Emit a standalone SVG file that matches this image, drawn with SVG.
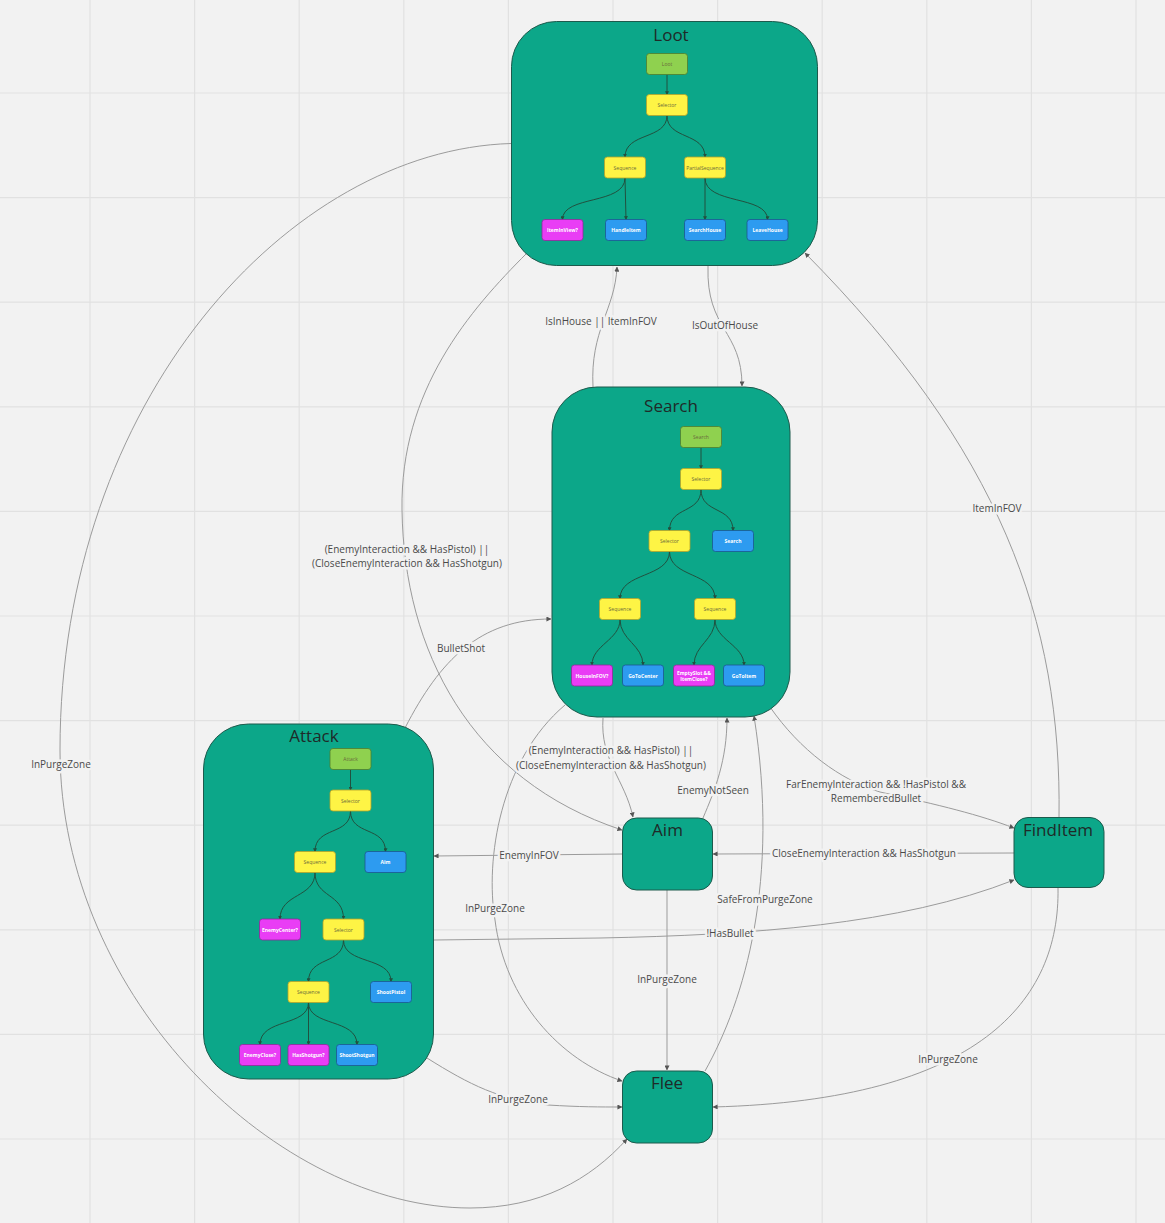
<svg xmlns="http://www.w3.org/2000/svg" width="1165" height="1223" viewBox="0 0 1165 1223">
<defs>
<style>
.grid line{stroke:#e1e1e1;stroke-width:1.2}
.big{fill:#0ca789;stroke:#1d5a4c;stroke-width:1}
.title{font-family:"Open Sans","Noto Sans","DejaVu Sans",sans-serif;font-size:17px;fill:#1f2a28;text-anchor:middle}
.n{stroke-width:0.8}
.g{fill:#8fd14f;stroke:#4f7d2c}
.y{fill:#fef445;stroke:#b5a32a}
.m{fill:#e93df5;stroke:#8e2a99}
.b{fill:#2d9bf0;stroke:#1c5790}
.nt{font-family:"Open Sans","Noto Sans","DejaVu Sans",sans-serif;font-size:5px;fill:#6a6a3c;text-anchor:middle;dominant-baseline:central}
.wt{font-family:"Open Sans","Noto Sans","DejaVu Sans",sans-serif;font-size:5px;font-weight:bold;fill:#ffffff;text-anchor:middle;dominant-baseline:central}
.te{fill:none;stroke:#21513f;stroke-width:1}
.c{fill:none;stroke:#9b9b9b;stroke-width:1}
.lbl{font-family:"Open Sans","Noto Sans","DejaVu Sans",sans-serif;font-size:10px;fill:#4a4a4a;text-anchor:middle;dominant-baseline:central;stroke:#f2f2f2;stroke-width:5;paint-order:stroke;stroke-linejoin:round}
</style>
<marker id="ta" viewBox="0 0 6 6" refX="5" refY="3" markerWidth="4" markerHeight="4" markerUnits="userSpaceOnUse" orient="auto"><path d="M0,0 L6,3 L0,6 z" fill="#21513f"/></marker>
<marker id="ca" viewBox="0 0 6 6" refX="5.5" refY="3" markerWidth="5" markerHeight="5" markerUnits="userSpaceOnUse" orient="auto"><path d="M0,0 L6,3 L0,6 z" fill="#555"/></marker>
</defs>
<rect x="0" y="0" width="1165" height="1223" fill="#f2f2f2"/>
<g class="grid">
<line x1="90" y1="0" x2="90" y2="1223"/><line x1="194.6" y1="0" x2="194.6" y2="1223"/><line x1="299.2" y1="0" x2="299.2" y2="1223"/><line x1="403.8" y1="0" x2="403.8" y2="1223"/><line x1="508.4" y1="0" x2="508.4" y2="1223"/><line x1="613" y1="0" x2="613" y2="1223"/><line x1="717.6" y1="0" x2="717.6" y2="1223"/><line x1="822.2" y1="0" x2="822.2" y2="1223"/><line x1="926.8" y1="0" x2="926.8" y2="1223"/><line x1="1031.4" y1="0" x2="1031.4" y2="1223"/><line x1="1136" y1="0" x2="1136" y2="1223"/>
<line x1="0" y1="93" x2="1165" y2="93"/><line x1="0" y1="197.6" x2="1165" y2="197.6"/><line x1="0" y1="302.2" x2="1165" y2="302.2"/><line x1="0" y1="406.8" x2="1165" y2="406.8"/><line x1="0" y1="511.4" x2="1165" y2="511.4"/><line x1="0" y1="616" x2="1165" y2="616"/><line x1="0" y1="720.6" x2="1165" y2="720.6"/><line x1="0" y1="825.2" x2="1165" y2="825.2"/><line x1="0" y1="929.8" x2="1165" y2="929.8"/><line x1="0" y1="1034.4" x2="1165" y2="1034.4"/><line x1="0" y1="1139" x2="1165" y2="1139"/>
</g>

<g id="connectors">
<path class="c" d="M511,143.5 C290,150 60,400 60,750 C60,1000 280,1208 470,1208 C540,1208 590,1180 627,1139" marker-end="url(#ca)"/>
<path class="c" d="M527,253 C470,310 400,390 402,510 C404,650 470,780 622,830" marker-end="url(#ca)"/>
<path class="c" d="M593,387 C590,330 615,310 617,267" marker-end="url(#ca)"/>
<path class="c" d="M708,266 C706,330 742,330 742,386" marker-end="url(#ca)"/>
<path class="c" d="M405,728 C440,660 480,619 551,619" marker-end="url(#ca)"/>
<path class="c" d="M603,718 C600,760 625,780 633,817" marker-end="url(#ca)"/>
<path class="c" d="M703,818 C715,790 727,760 727,718" marker-end="url(#ca)"/>
<path class="c" d="M705,1071 C745,1000 780,880 754,716" marker-end="url(#ca)"/>
<path class="c" d="M565,705 C500,760 485,860 495,920 C505,1000 560,1060 622,1081" marker-end="url(#ca)"/>
<path class="c" d="M622,854 L434,856" marker-end="url(#ca)"/>
<path class="c" d="M1014,853 L713,854" marker-end="url(#ca)"/>
<path class="c" d="M770,707 C800,750 840,780 880,792 C940,805 980,815 1014,828" marker-end="url(#ca)"/>
<path class="c" d="M434,940 L600,938 C750,935 900,925 1014,880" marker-end="url(#ca)"/>
<path class="c" d="M667,890 L667,1070" marker-end="url(#ca)"/>
<path class="c" d="M1059,818 C1062,620 1000,450 805,253" marker-end="url(#ca)"/>
<path class="c" d="M427,1058 C470,1085 500,1100 548,1105 C580,1107 600,1107 622,1107" marker-end="url(#ca)"/>
<path class="c" d="M1058,888 C1060,1000 980,1100 713,1107" marker-end="url(#ca)"/>
<text class="lbl" x="61" y="764">InPurgeZone</text>
<text class="lbl" x="407" y="549">(EnemyInteraction &amp;&amp; HasPistol) ||</text>
<text class="lbl" x="407" y="563">(CloseEnemyInteraction &amp;&amp; HasShotgun)</text>
<text class="lbl" x="601" y="321">IsInHouse || ItemInFOV</text>
<text class="lbl" x="725" y="325">IsOutOfHouse</text>
<text class="lbl" x="461" y="648">BulletShot</text>
<text class="lbl" x="611" y="750">(EnemyInteraction &amp;&amp; HasPistol) ||</text>
<text class="lbl" x="611" y="765">(CloseEnemyInteraction &amp;&amp; HasShotgun)</text>
<text class="lbl" x="713" y="790">EnemyNotSeen</text>
<text class="lbl" x="765" y="899">SafeFromPurgeZone</text>
<text class="lbl" x="495" y="908">InPurgeZone</text>
<text class="lbl" x="529" y="855">EnemyInFOV</text>
<text class="lbl" x="864" y="853">CloseEnemyInteraction &amp;&amp; HasShotgun</text>
<text class="lbl" x="876" y="784">FarEnemyInteraction &amp;&amp; !HasPistol &amp;&amp;</text>
<text class="lbl" x="876" y="798">RememberedBullet</text>
<text class="lbl" x="730" y="933">!HasBullet</text>
<text class="lbl" x="667" y="979">InPurgeZone</text>
<text class="lbl" x="997" y="508">ItemInFOV</text>
<text class="lbl" x="518" y="1099">InPurgeZone</text>
<text class="lbl" x="948" y="1059">InPurgeZone</text>
</g>

<g id="loot">
<rect class="big" x="511.5" y="21.5" width="306" height="244" rx="45"/>
<text class="title" x="671" y="41">Loot</text>
<path class="te" d="M667,74.5 L667,94.5" marker-end="url(#ta)"/>
<path class="te" d="M667,115.5 C667,140 625,132 625,157" marker-end="url(#ta)"/>
<path class="te" d="M667,115.5 C667,140 705,132 705,157" marker-end="url(#ta)"/>
<path class="te" d="M625,178 C625,205 562.5,195 562.5,219.5" marker-end="url(#ta)"/>
<path class="te" d="M625,178 L626,219.5" marker-end="url(#ta)"/>
<path class="te" d="M705,178 L705,219.5" marker-end="url(#ta)"/>
<path class="te" d="M705,178 C705,205 767.5,195 767.5,219.5" marker-end="url(#ta)"/>
<g id="loot-root"><rect class="n g" x="646.5" y="53.5" width="41" height="21" rx="3"/><text class="nt" x="667" y="64">Loot</text></g>
<g id="loot-selector"><rect class="n y" x="646.5" y="94.5" width="41" height="21" rx="3"/><text class="nt" x="667" y="105">Selector</text></g>
<g id="loot-sequence"><rect class="n y" x="604.5" y="157" width="41" height="21" rx="3"/><text class="nt" x="625" y="167.5">Sequence</text></g>
<g id="loot-partial"><rect class="n y" x="684.5" y="157" width="41" height="21" rx="3"/><text class="nt" x="705" y="167.5">PartialSequence</text></g>
<g id="loot-iteminview"><rect class="n m" x="542" y="219.5" width="41" height="21" rx="3"/><text class="wt" x="562.5" y="230">ItemInView?</text></g>
<g id="loot-handleitem"><rect class="n b" x="605.5" y="219.5" width="41" height="21" rx="3"/><text class="wt" x="626" y="230">HandleItem</text></g>
<g id="loot-searchhouse"><rect class="n b" x="684.5" y="219.5" width="41" height="21" rx="3"/><text class="wt" x="705" y="230">SearchHouse</text></g>
<g id="loot-leavehouse"><rect class="n b" x="747" y="219.5" width="41" height="21" rx="3"/><text class="wt" x="767.5" y="230">LeaveHouse</text></g>
</g>

<g id="search">
<rect class="big" x="552" y="387" width="238" height="330" rx="45"/>
<text class="title" x="671" y="412">Search</text>
<path class="te" d="M701,447.5 L701,468.5" marker-end="url(#ta)"/>
<path class="te" d="M701,489.5 C701,514 669.5,506 669.5,530.5" marker-end="url(#ta)"/>
<path class="te" d="M701,489.5 C701,514 733,506 733,530.5" marker-end="url(#ta)"/>
<path class="te" d="M669.5,551.5 C669.5,578 620,572 620,598.5" marker-end="url(#ta)"/>
<path class="te" d="M669.5,551.5 C669.5,578 715,572 715,598.5" marker-end="url(#ta)"/>
<path class="te" d="M620,619.5 C620,640 592,645 592,665" marker-end="url(#ta)"/>
<path class="te" d="M620,619.5 C620,640 643,645 643,665" marker-end="url(#ta)"/>
<path class="te" d="M715,619.5 C715,640 694,645 694,665" marker-end="url(#ta)"/>
<path class="te" d="M715,619.5 C715,640 744,645 744,665" marker-end="url(#ta)"/>
<g id="search-root"><rect class="n g" x="680.5" y="426.5" width="41" height="21" rx="3"/><text class="nt" x="701" y="437">Search</text></g>
<g id="search-selector"><rect class="n y" x="680.5" y="468.5" width="41" height="21" rx="3"/><text class="nt" x="701" y="479">Selector</text></g>
<g id="search-selector2"><rect class="n y" x="649" y="530.5" width="41" height="21" rx="3"/><text class="nt" x="669.5" y="541">Selector</text></g>
<g id="search-search"><rect class="n b" x="712.5" y="530.5" width="41" height="21" rx="3"/><text class="wt" x="733" y="541">Search</text></g>
<g id="search-sequence1"><rect class="n y" x="599.5" y="598.5" width="41" height="21" rx="3"/><text class="nt" x="620" y="609">Sequence</text></g>
<g id="search-sequence2"><rect class="n y" x="694.5" y="598.5" width="41" height="21" rx="3"/><text class="nt" x="715" y="609">Sequence</text></g>
<g id="search-houseinfov"><rect class="n m" x="571.5" y="665" width="41" height="21" rx="3"/><text class="wt" x="592" y="675.5">HouseInFOV?</text></g>
<g id="search-gotocenter"><rect class="n b" x="622.5" y="665" width="41" height="21" rx="3"/><text class="wt" x="643" y="675.5">GoToCenter</text></g>
<g id="search-emptyslot"><rect class="n m" x="673.5" y="665" width="41" height="21" rx="3"/><text class="wt" x="694" y="672.5">EmptySlot &amp;&amp;</text><text class="wt" x="694" y="678.5">ItemClose?</text></g>
<g id="search-gotoitem"><rect class="n b" x="723.5" y="665" width="41" height="21" rx="3"/><text class="wt" x="744" y="675.5">GoToItem</text></g>
</g>

<g id="attack">
<rect class="big" x="203.5" y="724" width="230" height="355" rx="45"/>
<text class="title" x="314" y="742">Attack</text>
<path class="te" d="M350.5,769.5 L350.5,790" marker-end="url(#ta)"/>
<path class="te" d="M350.5,811 C350.5,836 315,826 315,851.5" marker-end="url(#ta)"/>
<path class="te" d="M350.5,811 C350.5,836 385.5,826 385.5,851.5" marker-end="url(#ta)"/>
<path class="te" d="M315,872.5 C315,898 280,893 280,919" marker-end="url(#ta)"/>
<path class="te" d="M315,872.5 C315,898 343.5,893 343.5,919" marker-end="url(#ta)"/>
<path class="te" d="M343.5,940 C343.5,965 308.5,956 308.5,981.5" marker-end="url(#ta)"/>
<path class="te" d="M343.5,940 C343.5,965 391,956 391,981.5" marker-end="url(#ta)"/>
<path class="te" d="M308.5,1002.5 C308.5,1027 260,1018 260,1044.5" marker-end="url(#ta)"/>
<path class="te" d="M308.5,1002.5 L308.5,1044.5" marker-end="url(#ta)"/>
<path class="te" d="M308.5,1002.5 C308.5,1027 357,1018 357,1044.5" marker-end="url(#ta)"/>
<g id="attack-root"><rect class="n g" x="330" y="748.5" width="41" height="21" rx="3"/><text class="nt" x="350.5" y="759">Attack</text></g>
<g id="attack-selector"><rect class="n y" x="330" y="790" width="41" height="21" rx="3"/><text class="nt" x="350.5" y="800.5">Selector</text></g>
<g id="attack-sequence1"><rect class="n y" x="294.5" y="851.5" width="41" height="21" rx="3"/><text class="nt" x="315" y="862">Sequence</text></g>
<g id="attack-aim"><rect class="n b" x="365" y="851.5" width="41" height="21" rx="3"/><text class="wt" x="385.5" y="862">Aim</text></g>
<g id="attack-enemycenter"><rect class="n m" x="259.5" y="919" width="41" height="21" rx="3"/><text class="wt" x="280" y="929.5">EnemyCenter?</text></g>
<g id="attack-selector2"><rect class="n y" x="323" y="919" width="41" height="21" rx="3"/><text class="nt" x="343.5" y="929.5">Selector</text></g>
<g id="attack-sequence2"><rect class="n y" x="288" y="981.5" width="41" height="21" rx="3"/><text class="nt" x="308.5" y="992">Sequence</text></g>
<g id="attack-shootpistol"><rect class="n b" x="370.5" y="981.5" width="41" height="21" rx="3"/><text class="wt" x="391" y="992">ShootPistol</text></g>
<g id="attack-enemyclose"><rect class="n m" x="239.5" y="1044.5" width="41" height="21" rx="3"/><text class="wt" x="260" y="1055">EnemyClose?</text></g>
<g id="attack-hasshotgun"><rect class="n m" x="288" y="1044.5" width="41" height="21" rx="3"/><text class="wt" x="308.5" y="1055">HasShotgun?</text></g>
<g id="attack-shootshotgun"><rect class="n b" x="336.5" y="1044.5" width="41" height="21" rx="3"/><text class="wt" x="357" y="1055">ShootShotgun</text></g>
</g>

<g id="aim">
<rect class="big" x="622.5" y="818" width="90" height="72" rx="14"/>
<text class="title" x="667.5" y="836">Aim</text>
</g>
<g id="finditem">
<rect class="big" x="1014" y="817.5" width="90" height="70" rx="14"/>
<text class="title" x="1058" y="836">FindItem</text>
</g>
<g id="flee">
<rect class="big" x="622.5" y="1071" width="90" height="72" rx="14"/>
<text class="title" x="667" y="1089">Flee</text>
</g>
</svg>
